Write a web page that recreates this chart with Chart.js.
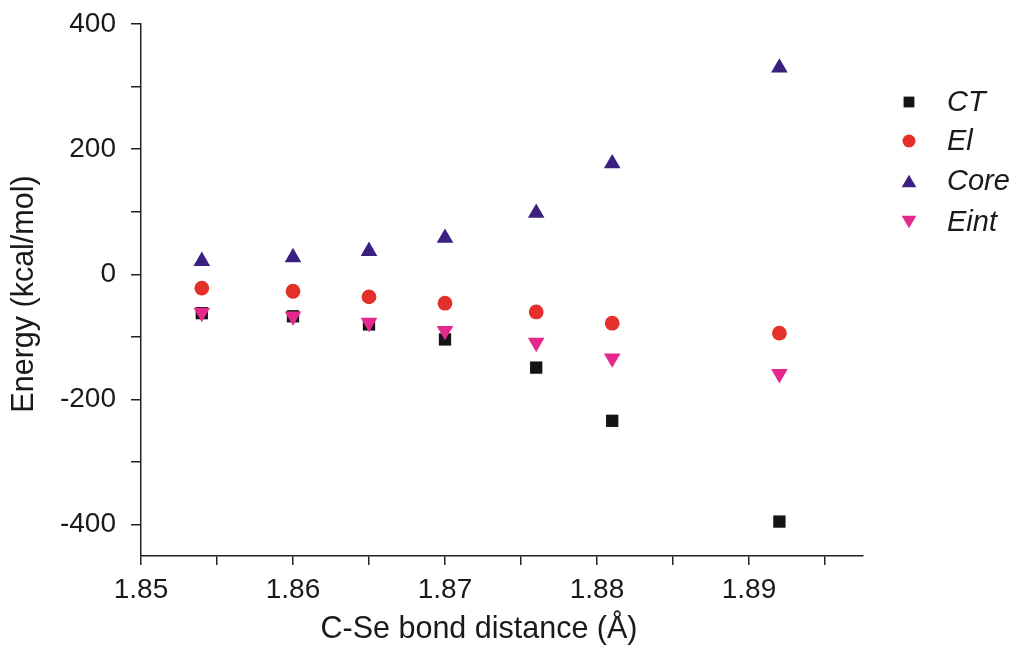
<!DOCTYPE html>
<html>
<head>
<meta charset="utf-8">
<script src="https://cdn.jsdelivr.net/npm/chart.js@4/dist/chart.umd.min.js"></script>
<style>
  html, body { margin: 0; padding: 0; background: #ffffff; }
  #wrap { width: 1014px; height: 648px; position: relative; }
</style>
</head>
<body>
<div id="wrap"><canvas id="c" width="1014" height="648"></canvas></div>
<script>
// ---- data ----
const bondDistance = [1.854, 1.860, 1.865, 1.870, 1.876, 1.881, 1.892];
const ctValues   = [-62, -67, -80, -104, -149, -234, -395];
const elValues   = [-22, -27, -36, -46, -60, -78, -94];
const coreValues = [21, 27, 37, 58, 98, 177, 330];
const eintValues = [-61, -67, -77, -90, -109, -134, -159];

const seriesNames = ['CT', 'El', 'Core', 'Eint'];

const xTickValues = [1.85, 1.855, 1.86, 1.865, 1.87, 1.875, 1.88, 1.885, 1.89, 1.895];
const xTickLabels = ['1.85', '', '1.86', '', '1.87', '', '1.88', '', '1.89', ''];
const yTickValues = [-400, -300, -200, -100, 0, 100, 200, 300, 400];
const yTickLabels = ['-400', '', '-200', '', '0', '', '200', '', '400'];

const xTitle = 'C-Se bond distance (Å)';
const yTitle = 'Energy (kcal/mol)';

// ---- styles ----
const colors = { CT: '#141414', El: '#e4302a', Core: '#3b2080', Eint: '#e5288b' };
const FONT = '"Liberation Sans", Arial, sans-serif';

function pts(ys) { return bondDistance.map((x, i) => ({ x: x, y: ys[i] })); }

const markerDefs = {
  CT:   { pointStyle: 'rect', radius: 8.7, rotation: 0 },
  El:   { pointStyle: 'circle', radius: 7.4, rotation: 0 },
  Core: { pointStyle: 'triangle', radius: 9.6, rotation: 0 },
  Eint: { pointStyle: 'triangle', radius: 9.6, rotation: 180 }
};

const seriesData = { CT: ctValues, El: elValues, Core: coreValues, Eint: eintValues };

const datasets = seriesNames.map((name, i) => ({
  label: name,
  data: pts(seriesData[name]),
  showLine: false,
  backgroundColor: colors[name],
  borderColor: colors[name],
  borderWidth: 0,
  pointStyle: markerDefs[name].pointStyle,
  pointRadius: markerDefs[name].radius,
  pointHoverRadius: markerDefs[name].radius,
  pointRotation: markerDefs[name].rotation,
  order: seriesNames.length - i
}));

// custom legend + axis titles
const decorPlugin = {
  id: 'decor',
  afterDraw(chart) {
    const ctx = chart.ctx;
    ctx.save();
    // legend
    const legendX = 909, textX = 947;
    const legendY = [102, 141, 181, 222];
    seriesNames.forEach((name, i) => {
      const y = legendY[i];
      const m = markerDefs[name];
      const r = m.radius * 0.88;
      ctx.fillStyle = colors[name];
      ctx.beginPath();
      if (m.pointStyle === 'rect') {
        const s = Math.SQRT1_2 * r;
        ctx.rect(legendX - s, y - s, 2 * s, 2 * s);
      } else if (m.pointStyle === 'circle') {
        ctx.arc(legendX, y, r, 0, Math.PI * 2);
      } else {
        const rot = m.rotation * Math.PI / 180;
        let a = rot;
        const cy = y + (m.rotation ? -r / 4 : r / 4);
        ctx.moveTo(legendX + Math.sin(a) * r, cy - Math.cos(a) * r);
        a += 2 * Math.PI / 3;
        ctx.lineTo(legendX + Math.sin(a) * r, cy - Math.cos(a) * r);
        a += 2 * Math.PI / 3;
        ctx.lineTo(legendX + Math.sin(a) * r, cy - Math.cos(a) * r);
        ctx.closePath();
      }
      ctx.fill();
      ctx.fillStyle = '#1a1a1a';
      ctx.font = 'italic 29px ' + FONT;
      ctx.textAlign = 'left';
      ctx.textBaseline = 'middle';
      ctx.fillText(name, textX, y + 1);
    });
    // axis titles
    ctx.fillStyle = '#1a1a1a';
    ctx.font = '30.5px ' + FONT;
    ctx.textAlign = 'center';
    ctx.textBaseline = 'middle';
    ctx.fillText(xTitle, 479, 630);
    ctx.translate(25, 294);
    ctx.rotate(-Math.PI / 2);
    ctx.fillText(yTitle, 0, 0);
    ctx.restore();
  }
};

new Chart(document.getElementById('c'), {
  type: 'scatter',
  data: { datasets: datasets },
  plugins: [decorPlugin],
  options: {
    responsive: false,
    animation: false,
    devicePixelRatio: 1,
    layout: { padding: { top: 24, right: 151, left: 0, bottom: 0 }, autoPadding: false },
    plugins: { legend: { display: false }, tooltip: { enabled: false }, title: { display: false } },
    scales: {
      x: {
        type: 'linear',
        min: 1.85,
        max: 1.8975,
        afterBuildTicks(scale) { scale.ticks = xTickValues.map(v => ({ value: v })); },
        afterFit(scale) { scale.height = 92; scale.paddingLeft = 0; scale.paddingRight = 0; },
        ticks: {
          autoSkip: false,
          maxRotation: 0,
          padding: 8,
          color: '#1a1a1a',
          font: { family: FONT, size: 28 },
          callback(value, index) { return xTickLabels[index]; }
        },
        grid: { drawOnChartArea: false, drawTicks: true, tickLength: 9, color: '#222', lineWidth: 1.5 },
        border: { display: true, color: '#222', width: 1.5 }
      },
      y: {
        type: 'linear',
        min: -450,
        max: 400,
        afterBuildTicks(scale) { scale.ticks = yTickValues.map(v => ({ value: v })); },
        afterFit(scale) { scale.width = 141; scale.paddingTop = 0; scale.paddingBottom = 0; },
        ticks: {
          autoSkip: false,
          padding: 15,
          color: '#1a1a1a',
          font: { family: FONT, size: 28 },
          callback(value, index) { return yTickLabels[index]; }
        },
        grid: { drawOnChartArea: false, drawTicks: true, tickLength: 10, color: '#222', lineWidth: 1.5 },
        border: { display: true, color: '#222', width: 1.5 }
      }
    }
  }
});
</script>
</body>
</html>
